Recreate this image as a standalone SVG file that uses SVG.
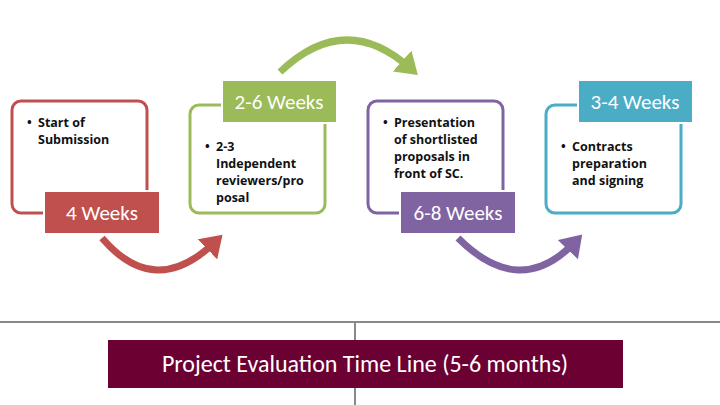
<svg xmlns="http://www.w3.org/2000/svg" width="720" height="405" viewBox="0 0 720 405">
<style>
.frame{fill:#fff;stroke-width:3}
.lbl{font-family:Calibri,Carlito,"Open Sans","Liberation Sans",sans-serif;font-size:21px;fill:#fff;text-anchor:middle}
.txt{font-family:"Open Sans","Liberation Sans",sans-serif;font-size:12.5px;font-weight:bold;fill:#111}
.arc{fill:none;stroke-width:7}
</style>
<defs>
<marker id="mr" markerWidth="4" markerHeight="4" refX="1.5" refY="2" orient="auto"><path d="M0,0L3,2L0,4z" fill="#c0504d"/></marker>
<marker id="mg" markerWidth="4" markerHeight="4" refX="1.5" refY="2" orient="auto"><path d="M0,0L3,2L0,4z" fill="#9bbb59"/></marker>
<marker id="mp" markerWidth="4" markerHeight="4" refX="1.5" refY="2" orient="auto"><path d="M0,0L3,2L0,4z" fill="#8064a2"/></marker>
</defs>
<rect width="720" height="405" fill="#fff"/>
<g id="connectors">
<path class="arc" stroke="#c0504d" d="M102,238 Q155,300 215,242" marker-end="url(#mr)"/>
<path class="arc" stroke="#9bbb59" d="M280,72 Q345,10 410,68" marker-end="url(#mg)"/>
<path class="arc" stroke="#8064a2" d="M458,238 Q520,300 575,242" marker-end="url(#mp)"/>
</g>
<g id="step1">
<rect class="frame" x="12" y="101" width="135" height="112" rx="9" stroke="#c0504d"/>
<text class="txt" x="27" y="127">•</text>
<text class="txt" x="38" y="127">Start of</text>
<text class="txt" x="38" y="144">Submission</text>
<rect x="44" y="191" width="116" height="43" fill="#c0504d" stroke="#fff" stroke-width="2"/>
<text class="lbl" x="102" y="220">4 Weeks</text>
</g>
<g id="step2">
<rect class="frame" x="190" y="105" width="135" height="108" rx="9" stroke="#9bbb59"/>
<text class="txt" x="205" y="151">•</text>
<text class="txt" x="216" y="151">2-3</text>
<text class="txt" x="216" y="168">Independent</text>
<text class="txt" x="216" y="185">reviewers/pro</text>
<text class="txt" x="216" y="202">posal</text>
<rect x="222" y="80" width="115" height="43" fill="#9bbb59" stroke="#fff" stroke-width="2"/>
<text class="lbl" x="279" y="109">2-6 Weeks</text>
</g>
<g id="step3">
<rect class="frame" x="368" y="101" width="135" height="112" rx="9" stroke="#8064a2"/>
<text class="txt" x="383" y="127">•</text>
<text class="txt" x="394" y="127">Presentation</text>
<text class="txt" x="394" y="144">of shortlisted</text>
<text class="txt" x="394" y="161">proposals in</text>
<text class="txt" x="394" y="178">front of SC.</text>
<rect x="400" y="191" width="116" height="43" fill="#8064a2" stroke="#fff" stroke-width="2"/>
<text class="lbl" x="458" y="220">6-8 Weeks</text>
</g>
<g id="step4">
<rect class="frame" x="546" y="105" width="135" height="108" rx="9" stroke="#4bacc6"/>
<text class="txt" x="561" y="151">•</text>
<text class="txt" x="572" y="151">Contracts</text>
<text class="txt" x="572" y="168">preparation</text>
<text class="txt" x="572" y="185">and signing</text>
<rect x="578" y="80" width="115" height="43" fill="#4bacc6" stroke="#fff" stroke-width="2"/>
<text class="lbl" x="635" y="109">3-4 Weeks</text>
</g>
<g id="title">
<line x1="0" y1="322" x2="720" y2="322" stroke="#888" stroke-width="2"/>
<line x1="355" y1="322" x2="355" y2="405" stroke="#888" stroke-width="2"/>
<rect x="108" y="340" width="515" height="48" fill="#6b0033"/>
<text x="365" y="372" font-family="Calibri,Carlito,'Open Sans','Liberation Sans',sans-serif" font-size="24" fill="#fff" text-anchor="middle">Project Evaluation Time Line (5-6 months)</text>
</g>
</svg>
